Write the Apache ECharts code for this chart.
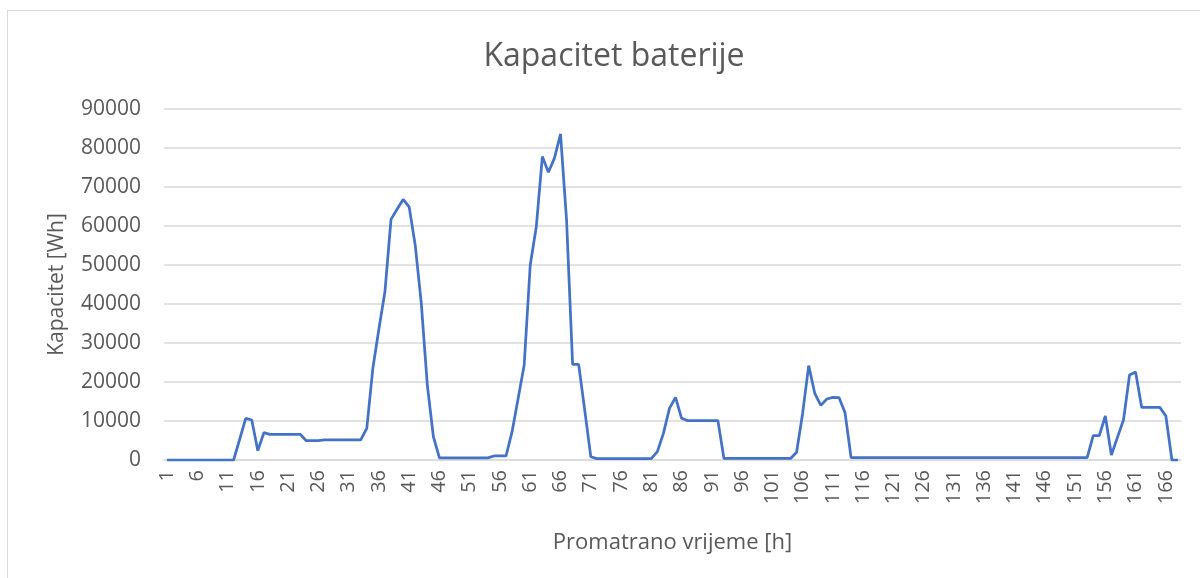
<!DOCTYPE html>
<html>
<head>
<meta charset="utf-8">
<title>Kapacitet baterije</title>
<script src="https://cdn.jsdelivr.net/npm/echarts@6/dist/echarts.min.js"></script>
<style>
    html, body { margin: 0; padding: 0; background: #ffffff; overflow: hidden; }
    #frame {
        position: absolute; left: 7px; top: 10px;
        width: 1300px; height: 700px;
        border: 1.5px solid #d9d9d9;
    }
    #chart-one { position: absolute; left: 0; top: 0; width: 1200px; height: 578px; }
</style>
</head>
<body>
<div id="frame"></div>
<div id="chart-one"></div>
<script>
// hours 1..168
let hours = [];
for (let h = 1; h <= 168; h++) {
    hours.push(String(h));
}

// battery capacity [Wh]
let capacity = [
    0, 0, 0, 0, 0, 0, 0, 0, 0, 0, 0, 0,
    5300, 10690, 10260, 2390, 7000,
    6590, 6590, 6590, 6590, 6590, 6590,
    4950, 4950, 4950,
    5150, 5150, 5150, 5150, 5150, 5150, 5150,
    8120, 23500, 33600, 43200, 61700, 64300, 66800, 64900, 55100, 40200, 19200, 6000,
    550, 550, 550, 550, 550, 550, 550, 550, 550,
    1030, 1030, 1030,
    7270, 15800, 24360, 50000, 59800, 77800, 73800, 77400, 83600, 61500, 24500, 24500, 12800, 850,
    350, 350, 350, 350, 350, 350, 350, 350, 350, 350,
    2140, 6840, 13250, 16070, 10690,
    10090, 10090, 10090, 10090, 10090, 10090,
    400, 400, 400, 400, 400, 400, 400, 400, 400, 400, 400, 400,
    2000, 12000, 24200, 17100, 14000, 15640, 16070, 16000, 12150,
    600, 600, 600, 600, 600, 600, 600, 600, 600, 600,
    600, 600, 600, 600, 600, 600, 600, 600, 600, 600,
    600, 600, 600, 600, 600, 600, 600, 600, 600, 600,
    600, 600, 600, 600, 600, 600, 600, 600, 600, 600,
    6230, 6230, 11280, 1280, 5800, 10260, 21800, 22560,
    13500, 13500, 13500, 13500,
    11280, 0, 0
];

let yTicks = { min: 0, max: 90000, interval: 10000 };

eshipEchartOne();

function eshipEchartOne() {
    let myChart = echarts.init(document.getElementById('chart-one'));
    let font = '"Open Sans", sans-serif';

    let option = {
        backgroundColor: 'transparent',
        animation: false,
        title: {
            text: 'Kapacitet baterije',
            left: 609,
            top: 36,
            textAlign: 'center',
            textStyle: { fontFamily: font, fontSize: 32, fontWeight: 'normal', color: '#595959' }
        },
        grid: { left: 164, right: 19, top: 109, bottom: 118 },
        xAxis: {
            type: 'category',
            data: hours,
            boundaryGap: true,
            name: 'Promatrano vrijeme [h]',
            nameLocation: 'middle',
            nameGap: 72,
            nameTextStyle: { fontFamily: font, fontSize: 22, color: '#595959' },
            axisLine: { lineStyle: { color: '#d9d9d9', width: 1.5 } },
            axisTick: { show: false },
            axisLabel: {
                interval: 4,
                rotate: 90,
                margin: 10,
                fontFamily: font,
                fontSize: 20,
                color: '#595959'
            }
        },
        yAxis: {
            type: 'value',
            min: yTicks.min,
            max: yTicks.max,
            interval: yTicks.interval,
            name: 'Kapacitet [Wh]',
            nameLocation: 'middle',
            nameGap: 96,
            nameTextStyle: { fontFamily: font, fontSize: 21, color: '#595959' },
            axisLine: { show: false },
            axisTick: { show: false },
            axisLabel: {
                margin: 23,
                fontFamily: font,
                fontSize: 21,
                color: '#595959',
                formatter: function (v) { return String(v); }
            },
            splitLine: { lineStyle: { color: '#d9d9d9', width: 1.5 } }
        },
        series: [
            {
                name: 'Kapacitet',
                type: 'line',
                data: capacity,
                symbol: 'none',
                lineStyle: { color: '#4472c4', width: 2.75 },
                z: 3
            }
        ]
    };

    myChart.setOption(option);
}
</script>
</body>
</html>
